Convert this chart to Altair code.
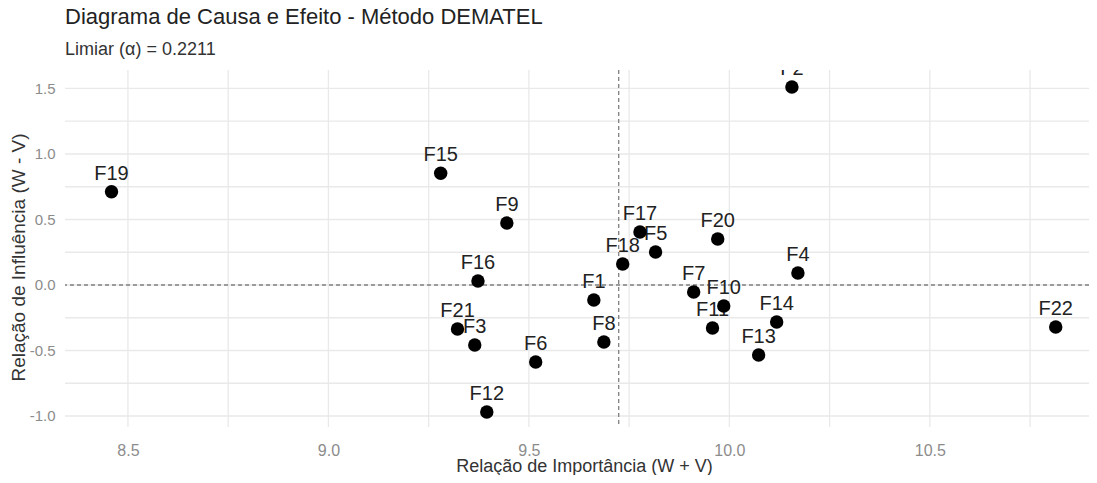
import altair as alt
import pandas as pd

# ---- data ----
factors = ["F1", "F2", "F3", "F4", "F5", "F6", "F7", "F8", "F9", "F10", "F11",
           "F12", "F13", "F14", "F15", "F16", "F17", "F18", "F19", "F20", "F21", "F22"]
importance = [9.662, 10.156, 9.365, 10.171, 9.816, 9.517, 9.911, 9.687, 9.445, 9.986, 9.958,
              9.395, 10.073, 10.118, 9.280, 9.373, 9.777, 9.734, 8.459, 9.971, 9.322, 10.814]
influence = [-0.115, 1.511, -0.458, 0.092, 0.252, -0.588, -0.053, -0.435, 0.473, -0.160, -0.328,
             -0.969, -0.534, -0.282, 0.853, 0.031, 0.405, 0.160, 0.712, 0.351, -0.336, -0.321]
x_threshold = [9.724]
y_threshold = [0.0]
x_ticks = [8.5, 9.0, 9.5, 10.0, 10.5]
y_ticks = [-1.0, -0.5, 0.0, 0.5, 1.0, 1.5]
x_grid = [8.5, 8.75, 9.0, 9.25, 9.5, 9.75, 10.0, 10.25, 10.5, 10.75]
y_grid = [-1.0, -0.75, -0.5, -0.25, 0.0, 0.25, 0.5, 0.75, 1.0, 1.25, 1.5]

df = pd.DataFrame({"Fator": factors, "x": importance, "y": influence})

FONT = "Liberation Sans"
x_dom = [8.343, 10.897]
y_dom = [-1.084, 1.641]

xs = alt.Scale(domain=x_dom, nice=False, zero=False)
ys = alt.Scale(domain=y_dom, nice=False, zero=False)

fmt = "replace(format(datum.value, '.1f'), '\u2212', '-')"

x_axis = alt.Axis(values=x_ticks, labelExpr=fmt, grid=False, domain=False, ticks=False,
                  labelPadding=15, labelFontSize=16, labelColor="#8c8c8c", labelFont=FONT,
                  title="Relação de Importância (W + V)", titleFont=FONT, titleFontSize=18,
                  titleFontWeight="normal", titleColor="#333333", titleX=519, titleY=44,
                  titleBaseline="alphabetic", titleAlign="center")
y_axis = alt.Axis(values=y_ticks, labelExpr=fmt, grid=False, domain=False, ticks=False,
                  labelPadding=10, labelFontSize=15, labelColor="#8c8c8c", labelFont=FONT,
                  title="Relação de Influência (W - V)", titleFont=FONT, titleFontSize=19,
                  titleFontWeight="normal", titleColor="#333333", titleX=-47, titleY=187,
                  titleBaseline="middle", titleAlign="center", titleAngle=270)

vgrid = alt.Chart(pd.DataFrame({"g": x_grid})).mark_rule(color="#e9e9e9", strokeWidth=1.3).encode(
    x=alt.X("g:Q", scale=xs, axis=x_axis))
hgrid = alt.Chart(pd.DataFrame({"g": y_grid})).mark_rule(color="#e9e9e9", strokeWidth=1.3).encode(
    y=alt.Y("g:Q", scale=ys, axis=y_axis))

vline = alt.Chart(pd.DataFrame({"t": x_threshold})).mark_rule(
    color="#808080", strokeWidth=1.3, strokeDash=[4, 3]).encode(x=alt.X("t:Q", scale=xs))
hline = alt.Chart(pd.DataFrame({"t": y_threshold})).mark_rule(
    color="#808080", strokeWidth=1.3, strokeDash=[4, 3]).encode(y=alt.Y("t:Q", scale=ys))

labels = alt.Chart(df).mark_text(font=FONT, fontSize=20, color="#222222", dy=-18,
                                 baseline="middle", align="center", clip=True).encode(
    x=alt.X("x:Q", scale=xs), y=alt.Y("y:Q", scale=ys), text="Fator:N")

points = alt.Chart(df).mark_circle(size=180, color="#000000", opacity=1).encode(
    x=alt.X("x:Q", scale=xs), y=alt.Y("y:Q", scale=ys))

chart = alt.layer(vgrid, hgrid, vline, hline, labels, points).properties(
    width=1024, height=357,
    background="white",
    title=alt.TitleParams(
        text="Diagrama de Causa e Efeito - Método DEMATEL",
        subtitle="Limiar (α) = 0.2211",
        anchor="start", frame="group", font=FONT, fontSize=22, fontWeight="normal",
        color="#222222", subtitleFont=FONT, subtitleFontSize=18, subtitleColor="#333333",
        offset=9, subtitlePadding=12),
    autosize=alt.AutoSizeParams(type="none"),
    padding={"left": 57, "top": 62, "right": 0, "bottom": 48},
).configure_view(strokeWidth=0, stroke="transparent")

chart.save("out.html", embed_options={"renderer": "svg", "actions": False})
